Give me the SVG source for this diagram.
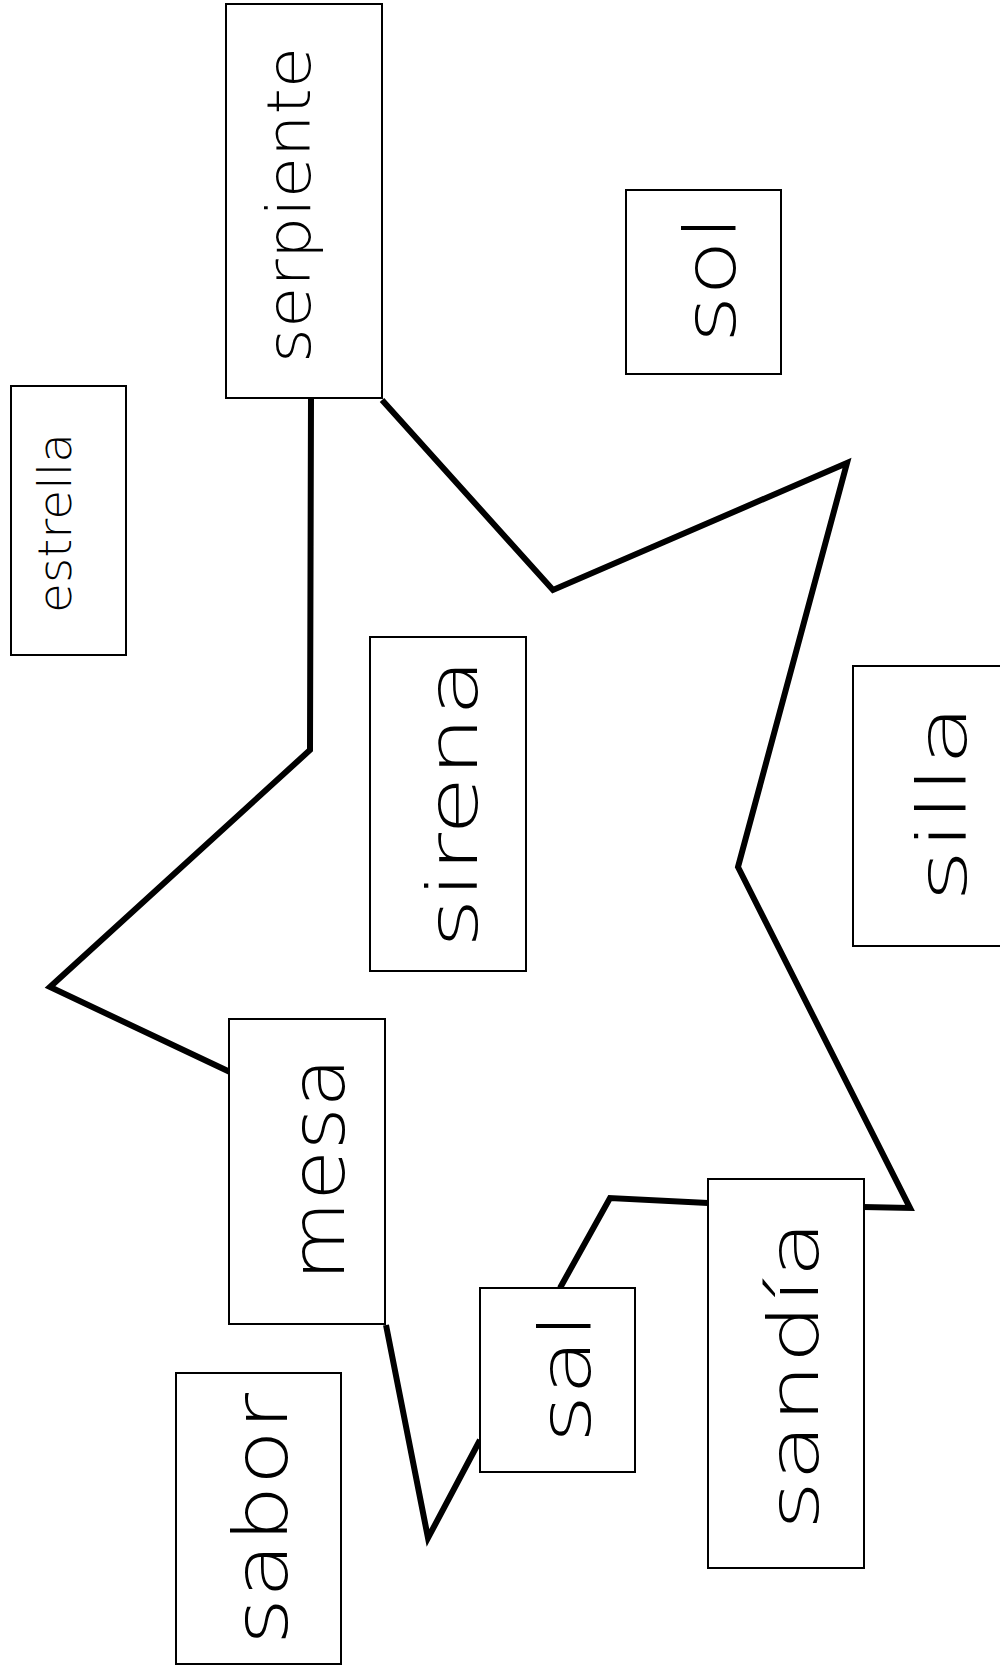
<svg xmlns="http://www.w3.org/2000/svg" width="1000" height="1673" viewBox="0 0 1000 1673">
<style>
.box{fill:#fff;stroke:#000;stroke-width:2}
.lbl{font-family:"DejaVu Sans","Liberation Sans",sans-serif;font-weight:200;fill:#000;text-anchor:middle}
.star{fill:none;stroke:#000;stroke-width:6;stroke-linejoin:miter;stroke-linecap:butt}
</style>
<rect width="1000" height="1673" fill="#fff"/>
<g id="connectors">
<path class="star" d="M311 398 L310 750 L50 987 L230 1072 M386 1325 L428 1538 L480 1440 M560 1288 L610 1198 L708 1203 M863 1207 L910 1208 L738 867 L847 463 L553 590 L382 400"/>
</g>
<g id="serpiente"><rect class="box" x="226" y="4" width="156" height="394"/><text class="lbl" font-size="60" textLength="316" lengthAdjust="spacingAndGlyphs" transform="translate(310,205) rotate(-90)">serpiente</text></g>
<g id="sol"><rect class="box" x="626" y="190" width="155" height="184"/><text class="lbl" font-size="72" textLength="128" lengthAdjust="spacingAndGlyphs" transform="translate(735,279) rotate(-90)">sol</text></g>
<g id="estrella"><rect class="box" x="11" y="386" width="115" height="269"/><text class="lbl" font-size="46" textLength="180" lengthAdjust="spacingAndGlyphs" transform="translate(71,523) rotate(-90)">estrella</text></g>
<g id="sirena"><rect class="box" x="370" y="637" width="156" height="334"/><text class="lbl" font-size="70" textLength="290" lengthAdjust="spacingAndGlyphs" transform="translate(477,803) rotate(-90)">sirena</text></g>
<g id="silla"><rect class="box" x="853" y="666" width="150" height="280"/><text class="lbl" font-size="68" textLength="198" lengthAdjust="spacingAndGlyphs" transform="translate(966,803) rotate(-90)">silla</text></g>
<g id="mesa"><rect class="box" x="229" y="1019" width="156" height="305"/><text class="lbl" font-size="75" textLength="224" lengthAdjust="spacingAndGlyphs" transform="translate(344,1169) rotate(-90)">mesa</text></g>
<g id="sal"><rect class="box" x="480" y="1288" width="155" height="184"/><text class="lbl" font-size="72" textLength="130" lengthAdjust="spacingAndGlyphs" transform="translate(590,1378) rotate(-90)">sal</text></g>
<g id="sandia"><rect class="box" x="708" y="1179" width="156" height="389"/><text class="lbl" font-size="70" textLength="310" lengthAdjust="spacingAndGlyphs" transform="translate(818,1375) rotate(-90)">sandía</text></g>
<g id="sabor"><rect class="box" x="176" y="1373" width="165" height="291"/><text class="lbl" font-size="75" textLength="252" lengthAdjust="spacingAndGlyphs" transform="translate(287,1519) rotate(-90)">sabor</text></g>
</svg>
